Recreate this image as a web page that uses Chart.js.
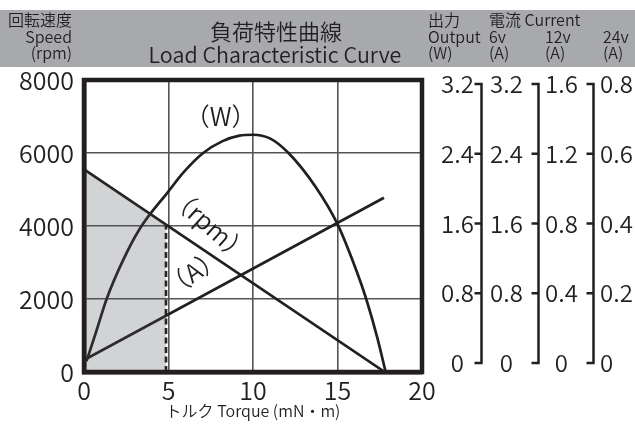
<!DOCTYPE html>
<html>
<head>
<meta charset="utf-8">
<script src="https://cdn.jsdelivr.net/npm/chart.js@4.4.1/dist/chart.umd.min.js"></script>
<style>
  html, body { margin: 0; padding: 0; background: #fff; }
  #wrap { position: relative; width: 635px; height: 425px; font-family: 'Noto Sans CJK JP', sans-serif; font-weight: 350; color: #231f20; }
  #band { position: absolute; left: 0; top: 10px; width: 635px; height: 57px; background: #a7a9ac; }
  canvas { position: absolute; left: 0; top: 0; }
  .t { position: absolute; white-space: nowrap; font-size: 16px; line-height: 16.5px; }
</style>
</head>
<body>
<div id="wrap">
  <div id="band"></div>
  <canvas id="chart" width="635" height="425"></canvas>
  <div class="t" style="right:563px; top:11px; text-align:right;">回転速度<br>Speed<br>(rpm)</div>
  <div class="t" style="left:126px; width:300px; top:19px; text-align:center; font-size:22px; line-height:22px;">負荷特性曲線</div>
  <div class="t" style="left:125px; width:300px; top:42.5px; text-align:center; font-size:21.5px; line-height:21.5px;">Load Characteristic Curve</div>
  <div class="t" style="left:428px; top:11px;">出力<br>Output<br>(W)</div>
  <div class="t" style="left:489px; top:11px;">電流 Current<br>6v<br>(A)</div>
  <div class="t" style="left:545px; top:27.5px;">12v<br>(A)</div>
  <div class="t" style="left:603px; top:27.5px;">24v<br>(A)</div>
</div>
<script>
// torque (mN・m) vs speed (rpm)
const torqueSpeed = [0, 17.8];
const speedRpm = [5550, 0];

// torque vs current at 6v (A)
const torqueCurrent = [0, 17.75];
const current6v = [0.13, 1.91];

// torque vs output (W)
const torqueOutput = [0.15, 0.7, 1.34, 2.3, 3.3, 5, 5.9, 7.05, 8.2, 9.2, 10, 11, 12.1, 13.7, 15, 16.1, 16.7, 17.35, 17.85];
const outputW = [0.12, 0.43, 0.8, 1.22, 1.57, 1.98, 2.19, 2.4, 2.53, 2.59, 2.6, 2.56, 2.4, 2.03, 1.62, 1.12, 0.8, 0.38, 0];

// rated point (dashed line / shaded area)
const ratedTorque = 4.85;
const ratedSpeed = 4040;

// axis ticks
const torqueTicks = [0, 5, 10, 15, 20];
const speedTicks = [0, 2000, 4000, 6000, 8000];
const ticksW = [0, 0.8, 1.6, 2.4, 3.2];
const ticks6v = [0, 0.8, 1.6, 2.4, 3.2];
const ticks12v = [0, 0.4, 0.8, 1.2, 1.6];
const ticks24v = [0, 0.2, 0.4, 0.6, 0.8];

const ink = "#231f20";
const gridColor = "#545557";
const font = "'Noto Sans CJK JP', sans-serif";
const lineW = 2.7;

const pts = (xs, ys) => xs.map((x, i) => ({ x, y: ys[i] }));

// right axes sit a little inside the plot height (4px top, 9px bottom of 292)
function rightAxis(ticks, width, pad, align) {
  const top = ticks[ticks.length - 1];
  return {
    type: "linear",
    position: "right",
    min: -top * 9 / 279,
    max: top * (1 + 4 / 279),
    afterBuildTicks: (s) => { s.ticks = ticks.map(v => ({ value: v })); },
    afterFit: (s) => { s.width = width; },
    grid: { display: false, drawTicks: false },
    border: { display: false },
    ticks: {
      padding: pad,
      crossAlign: align,
      color: ink,
      font: { family: font, size: 24, weight: 350 },
      callback: (v) => v === 0 ? "0" : v.toFixed(1)
    }
  };
}

const framePlugin = {
  id: "frame",
  afterDatasetsDraw(chart) {
    const { ctx, chartArea: a } = chart;
    ctx.save();
    ctx.strokeStyle = ink;
    ctx.lineWidth = 4.5;
    ctx.strokeRect(a.left, a.top, a.right - a.left, a.bottom - a.top);
    ctx.restore();
  }
};

const bracketPlugin = {
  id: "brackets",
  afterDraw(chart) {
    const ctx = chart.ctx;
    ctx.save();
    ctx.strokeStyle = ink;
    ctx.lineWidth = 2.5;
    ["rW", "r6", "r12"].forEach(id => {
      const s = chart.scales[id];
      const x = s.right - 1.5;
      const yTop = s.getPixelForValue(s.ticks[s.ticks.length - 1].value);
      const yBot = s.getPixelForValue(0);
      ctx.beginPath();
      ctx.moveTo(x, yTop - 1.25);
      ctx.lineTo(x, yBot + 1.25);
      s.ticks.forEach(t => {
        const y = s.getPixelForValue(t.value);
        ctx.moveTo(x - 7, y);
        ctx.lineTo(x, y);
      });
      ctx.stroke();
    });
    ctx.restore();
  }
};

// curve names placed in data coordinates
const curveLabels = [
  { text: "（W）", t: 8.08, v: 7010, rot: 0 },
  { text: "（rpm）", t: 7.46, v: 4030, rot: 42 },
  { text: "（A）", t: 6.45, v: 2740, rot: -35 }
];

const labelPlugin = {
  id: "curveLabels",
  afterDatasetsDraw(chart) {
    const { ctx, scales: { x, y } } = chart;
    ctx.save();
    ctx.fillStyle = ink;
    ctx.font = "350 25px " + font;
    ctx.textAlign = "center";
    ctx.textBaseline = "middle";
    curveLabels.forEach(l => {
      ctx.save();
      ctx.translate(x.getPixelForValue(l.t), y.getPixelForValue(l.v));
      ctx.rotate(l.rot * Math.PI / 180);
      ctx.fillText(l.text, 0, 0);
      ctx.restore();
    });
    ctx.restore();
  }
};

new Chart(document.getElementById("chart"), {
  type: "line",
  data: {
    datasets: [
      {
        // shaded region under the speed line up to the rated torque
        data: pts([0, ratedTorque], [speedRpm[0], ratedSpeed]),
        yAxisID: "y",
        fill: "origin",
        backgroundColor: "rgba(71,79,83,0.25)",
        borderWidth: 0,
        pointRadius: 0
      },
      {
        data: pts([ratedTorque, ratedTorque], [0, ratedSpeed]),
        yAxisID: "y",
        borderColor: ink,
        borderWidth: lineW,
        borderDash: [6, 3.5],
        pointRadius: 0
      },
      {
        label: "Speed (rpm)",
        data: pts(torqueSpeed, speedRpm),
        yAxisID: "y",
        borderColor: ink,
        borderWidth: lineW,
        pointRadius: 0
      },
      {
        label: "Current (A)",
        data: pts(torqueCurrent, current6v),
        yAxisID: "yA",
        borderColor: ink,
        borderWidth: lineW,
        pointRadius: 0
      },
      {
        label: "Output (W)",
        data: pts(torqueOutput, outputW),
        yAxisID: "yW",
        borderColor: ink,
        borderWidth: lineW,
        pointRadius: 0,
        cubicInterpolationMode: "monotone"
      }
    ]
  },
  options: {
    responsive: false,
    animation: false,
    devicePixelRatio: 1,
    layout: { padding: { top: 80, left: 0, right: 0, bottom: 0 } },
    plugins: {
      legend: { display: false },
      tooltip: { enabled: false },
      title: { display: false }
    },
    scales: {
      x: {
        type: "linear",
        min: 0,
        max: 20,
        afterBuildTicks: (s) => { s.ticks = torqueTicks.map(v => ({ value: v })); },
        afterFit: (s) => { s.height = 53; },
        grid: { color: gridColor, lineWidth: 1.6, drawTicks: false },
        border: { color: ink, width: 4.5 },
        ticks: { color: ink, padding: 3, font: { family: font, size: 25, weight: 350 } },
        title: {
          display: true,
          text: "トルク Torque (mN・m)",
          color: ink,
          font: { family: font, size: 16, weight: 350 },
          padding: { top: 0, bottom: 4 }
        }
      },
      y: {
        type: "linear",
        position: "left",
        min: 0,
        max: 8000,
        afterBuildTicks: (s) => { s.ticks = speedTicks.map(v => ({ value: v })); },
        afterFit: (s) => { s.width = 84; },
        grid: { color: gridColor, lineWidth: 1.6, drawTicks: false },
        border: { color: ink, width: 4.5 },
        ticks: {
          color: ink,
          padding: 10,
          font: { family: font, size: 25, weight: 350 },
          callback: (v) => String(v)
        }
      },
      yW: { type: "linear", position: "right", display: false, min: 0, max: 3.2 },
      yA: { type: "linear", position: "right", display: false, min: 0, max: 3.2 },
      rW: rightAxis(ticksW, 61, 19, "center"),
      r6: rightAxis(ticks6v, 57, 7, "center"),
      r12: rightAxis(ticks12v, 55, 5, "center"),
      r24: rightAxis(ticks24v, 40, 5, "near")
    }
  },
  plugins: [framePlugin, bracketPlugin, labelPlugin]
});
</script>
</body>
</html>
